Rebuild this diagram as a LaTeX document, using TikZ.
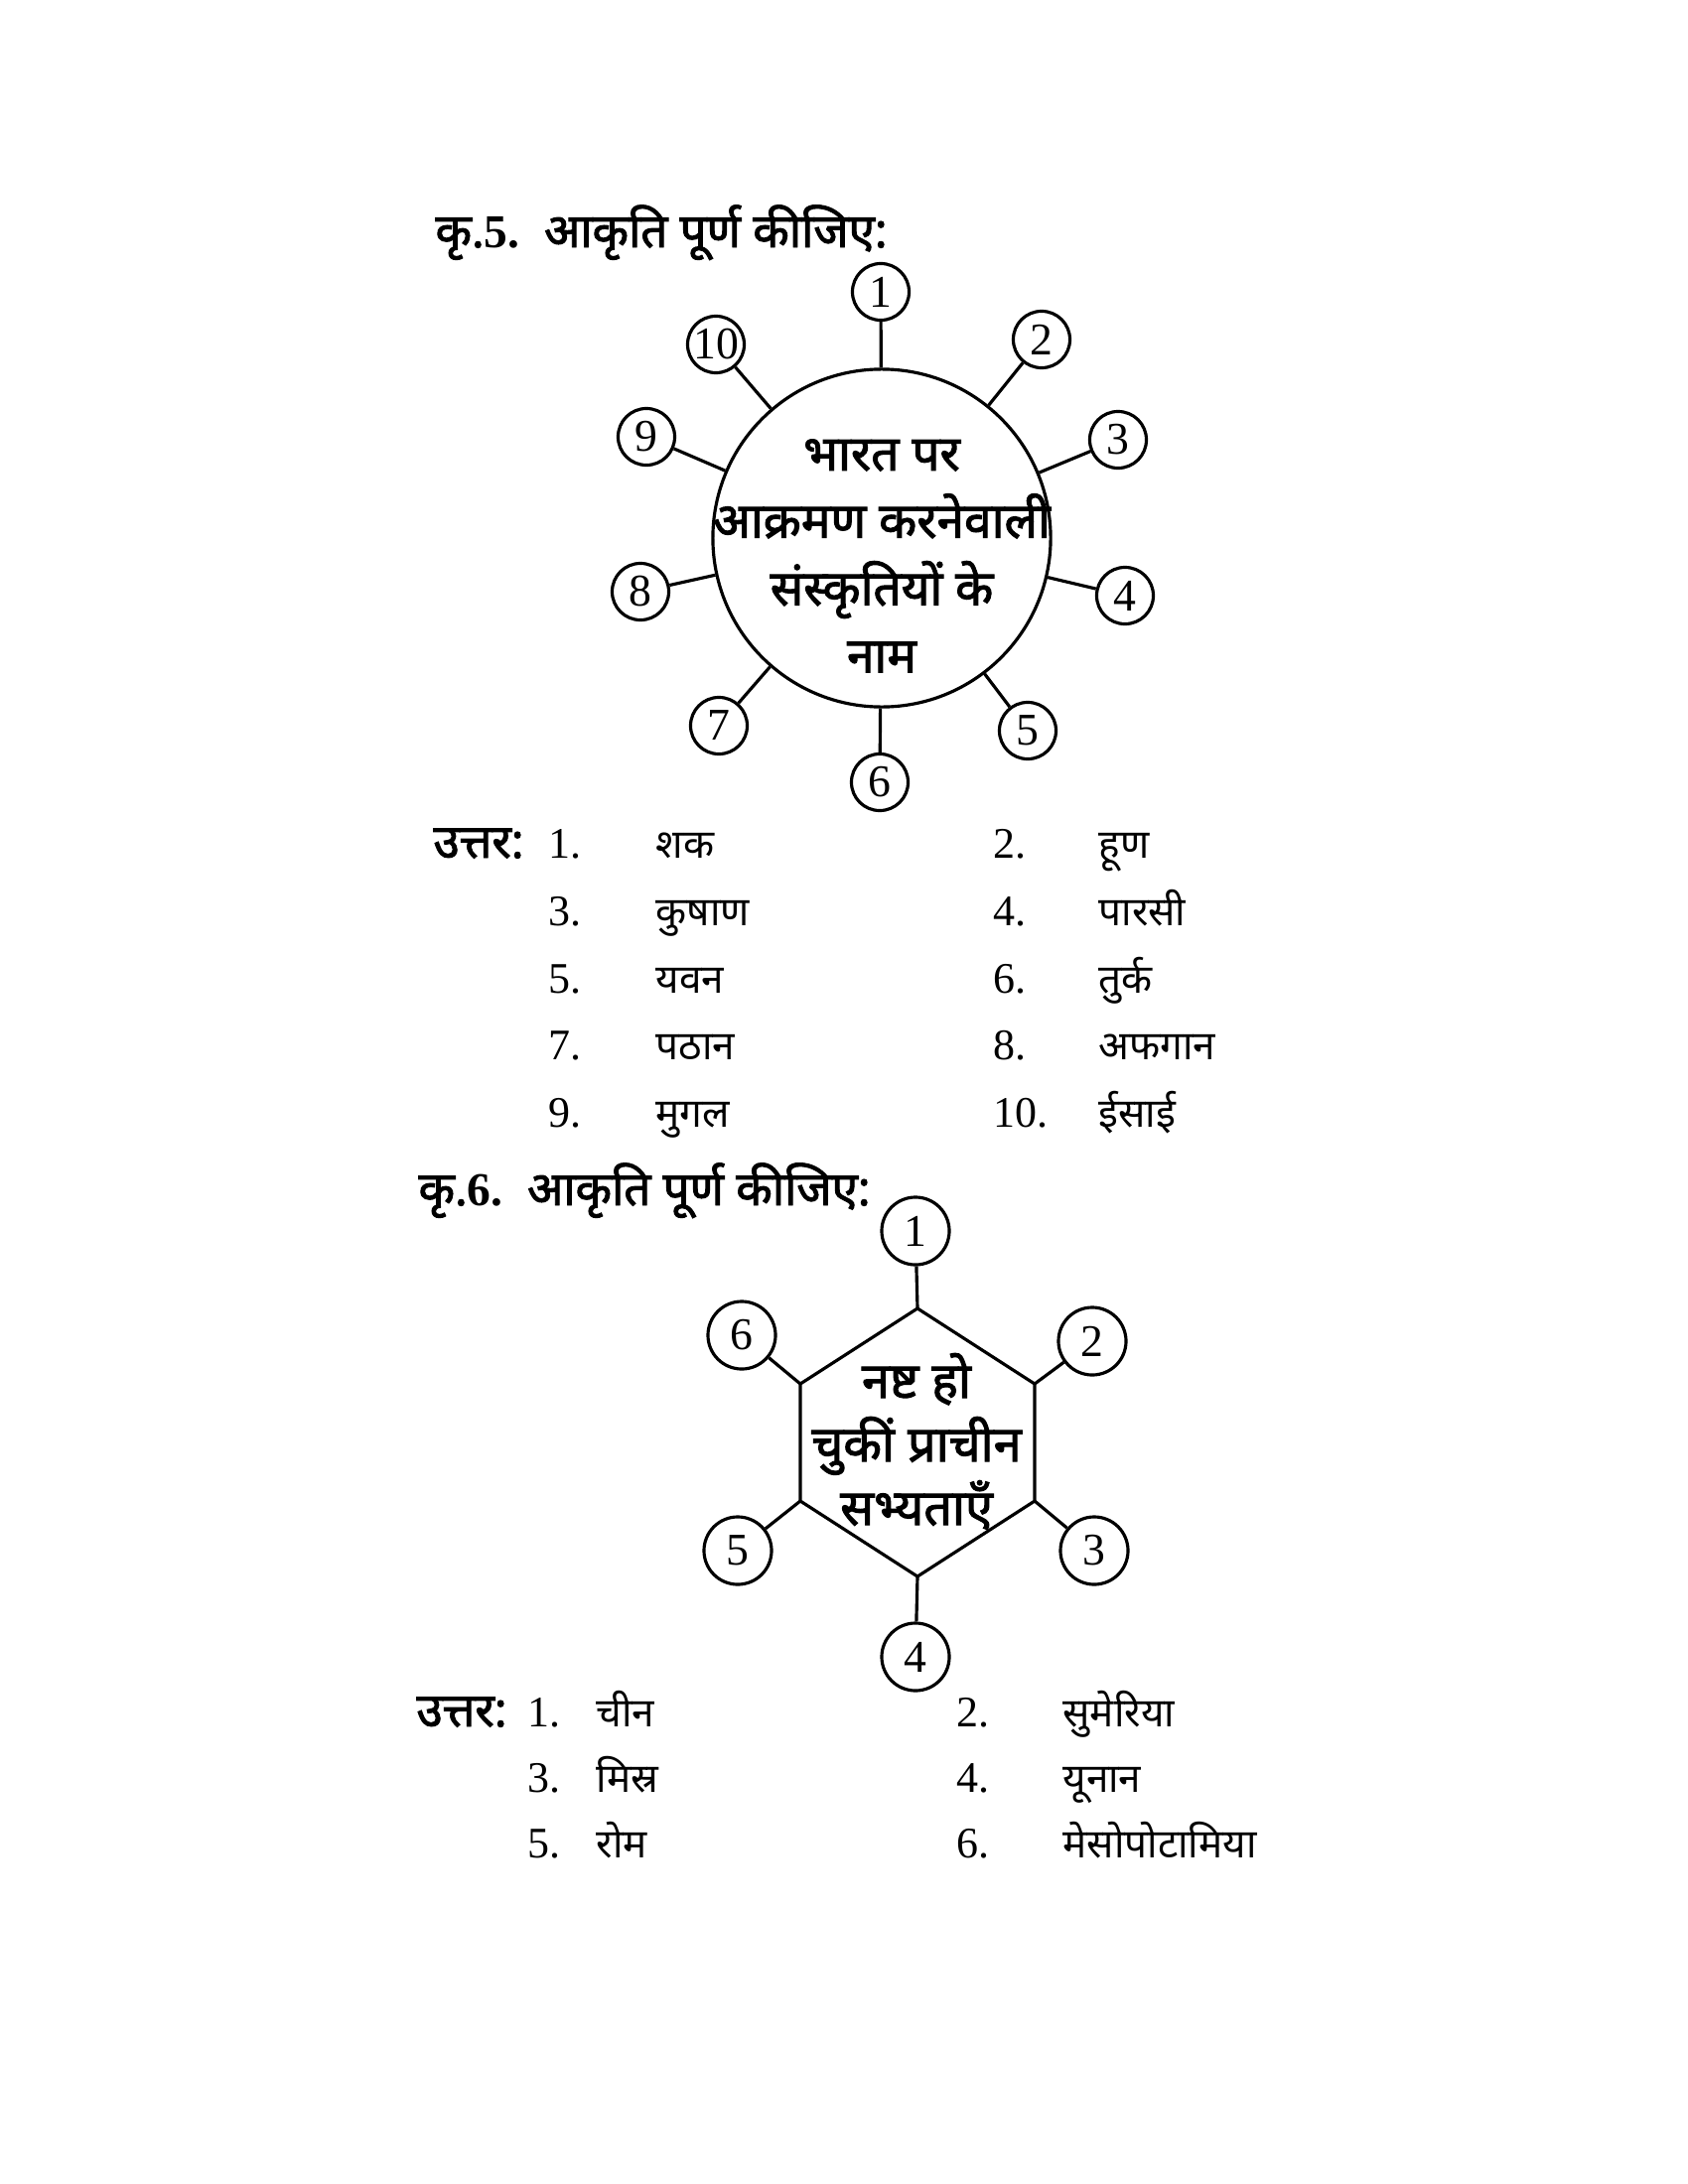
\documentclass[tikz,border=0pt]{standalone}
\usepackage{fontspec}
\setmainfont{Liberation Serif}
\newfontfamily\hindi[Script=Devanagari]{Noto Sans}
\newfontfamily\hindibf[Script=Devanagari, FakeBold=2]{Noto Sans}
\usetikzlibrary{positioning}

\begin{document}
\begin{tikzpicture}[x=0.01cm, y=-0.01cm, line width=0.9pt,
    numcirc/.style={circle, draw, minimum size=0.57cm, inner sep=0pt, font=\fontsize{13}{14}\selectfont},
    hexnum/.style={numcirc, minimum size=0.68cm},
    hubcirc/.style={circle, draw, minimum size=3.4cm, inner sep=0pt},
    hubtext/.style={align=center, inner sep=0pt, font=\hindibf\fontsize{14.1}{19.3}\selectfont},
    heading/.style={anchor=base west, inner sep=0pt, font=\hindibf\fontsize{13.5}{15}\selectfont},
    ansnum/.style={anchor=base west, inner sep=0pt, font=\fontsize{12.5}{14}\selectfont},
    answord/.style={anchor=base west, inner sep=0pt, font=\hindi\fontsize{11.5}{14}\selectfont}]

\useasboundingbox (0,0) rectangle (1700,2200);

%
\node[heading] (q5) at (437,249) {कृ.{\rmfamily\bfseries 5.}\ \ आकृति पूर्ण कीजिए:};

\node[hubcirc] (hub) at (888,542) {};
\node[hubtext] (hubtxt) at (888,560) {भारत पर\\आक्रमण करनेवाली\\संस्कृतियों के\\नाम};

\node[numcirc] (c1)  at (887,294) {1};
\node[numcirc] (c2)  at (1049,342) {2};
\node[numcirc] (c3)  at (1126,443) {3};
\node[numcirc] (c4)  at (1133,600) {4};
\node[numcirc] (c5)  at (1035,736) {5};
\node[numcirc] (c6)  at (886,788) {6};
\node[numcirc] (c7)  at (724,731) {7};
\node[numcirc] (c8)  at (645,596) {8};
\node[numcirc] (c9)  at (651,440) {9};
\node[numcirc] (c10) at (721,347) {10};

\draw (c1) -- (hub);
\draw (c2) -- (hub);
\draw (c3) -- (hub);
\draw (c4) -- (hub);
\draw (c5) -- (hub);
\draw (c6) -- (hub);
\draw (c7) -- (hub);
\draw (c8) -- (hub);
\draw (c9) -- (hub);
\draw (c10) -- (hub);

%
\node[heading] (ans5) at (435,864) {उत्तर:};
\node[ansnum]  (n1)  at (551,864)  {1.};  \node[answord] (w1)  at (659,864)  {शक};
\node[ansnum]  (n2)  at (999,864)  {2.};  \node[answord] (w2)  at (1105,864) {हूण};
\node[ansnum]  (n3)  at (551,932)  {3.};  \node[answord] (w3)  at (659,932)  {कुषाण};
\node[ansnum]  (n4)  at (999,932)  {4.};  \node[answord] (w4)  at (1105,932) {पारसी};
\node[ansnum]  (n5)  at (551,1000) {5.};  \node[answord] (w5)  at (659,1000) {यवन};
\node[ansnum]  (n6)  at (999,1000) {6.};  \node[answord] (w6)  at (1105,1000) {तुर्क};
\node[ansnum]  (n7)  at (551,1067) {7.};  \node[answord] (w7)  at (659,1067) {पठान};
\node[ansnum]  (n8)  at (999,1067) {8.};  \node[answord] (w8)  at (1105,1067) {अफगान};
\node[ansnum]  (n9)  at (551,1135) {9.};  \node[answord] (w9)  at (659,1135) {मुगल};
\node[ansnum]  (n10) at (999,1135) {10.}; \node[answord] (w10) at (1105,1135) {ईसाई};

%
\node[heading] (q6) at (420,1214) {कृ.{\rmfamily\bfseries 6.}\ \ आकृति पूर्ण कीजिए:};

\coordinate (hexc) at (924,1453);
\coordinate (hx1) at (924,1318);
\coordinate (hx2) at (1042,1394);
\coordinate (hx3) at (1042,1512);
\coordinate (hx4) at (924,1588);
\coordinate (hx5) at (806,1512);
\coordinate (hx6) at (806,1394);
\draw (hx1) -- (hx2) -- (hx3) -- (hx4) -- (hx5) -- (hx6) -- cycle;
\node[hubtext, font=\hindibf\fontsize{14.3}{18.2}\selectfont] (hextxt) at (923,1452) {नष्ट हो\\चुकीं प्राचीन\\सभ्यताएँ};

\node[hexnum] (h1) at (922,1240) {1};
\node[hexnum] (h2) at (1100,1351) {2};
\node[hexnum] (h3) at (1102,1562) {3};
\node[hexnum] (h4) at (922,1669) {4};
\node[hexnum] (h5) at (743,1562) {5};
\node[hexnum] (h6) at (747,1345) {6};

\draw (h1) -- (hx1);
\draw (h2) -- (hx2);
\draw (h3) -- (hx3);
\draw (h4) -- (hx4);
\draw (h5) -- (hx5);
\draw (h6) -- (hx6);

%
\node[heading] (ans6) at (418,1739) {उत्तर:};
\node[ansnum]  (m1) at (530,1739) {1.}; \node[answord] (v1) at (599,1739)  {चीन};
\node[ansnum]  (m2) at (962,1739) {2.}; \node[answord] (v2) at (1069,1739) {सुमेरिया};
\node[ansnum]  (m3) at (530,1805) {3.}; \node[answord] (v3) at (599,1805)  {मिस्र};
\node[ansnum]  (m4) at (962,1805) {4.}; \node[answord] (v4) at (1069,1805) {यूनान};
\node[ansnum]  (m5) at (530,1871) {5.}; \node[answord] (v5) at (599,1871)  {रोम};
\node[ansnum]  (m6) at (962,1871) {6.}; \node[answord] (v6) at (1069,1871) {मेसोपोटामिया};
\end{tikzpicture}
\end{document}
